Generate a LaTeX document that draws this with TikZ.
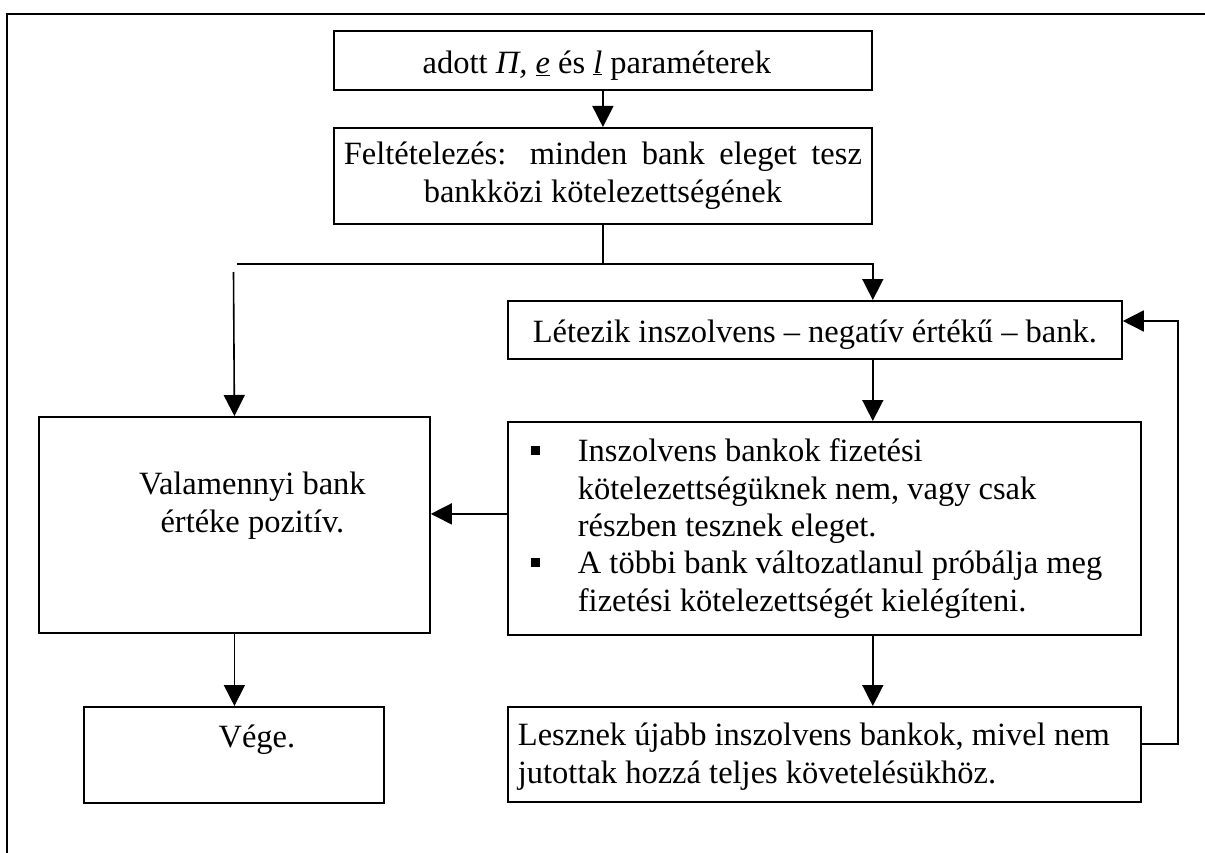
\documentclass[tikz,border=0pt]{standalone}
\usepackage{fontspec}
\setmainfont{Liberation Serif}
\usetikzlibrary{arrows.meta,calc}
\newcommand\bxt[4]{\parbox[c][#2][t]{#1}{\vspace*{#3}#4}}
\newcommand\sqbul{\leavevmode\llap{\raisebox{7pt}{\rule{9pt}{9pt}}\hspace{38pt}}}
\begin{document}
\begin{tikzpicture}[x=1pt,y=-1pt,
  font=\fontsize{32.5}{37.4}\selectfont,
  box/.style={draw, line width=1.8pt, inner sep=0pt, anchor=north west},
  conn/.style={line width=1.6pt},
  arr/.style={conn, -{Triangle[length=21pt,width=21pt]}}]
\useasboundingbox (0,0) rectangle (1205,853);
% outer frame
\draw[line width=2.6pt] (7,853) -- (7,14) -- (1205,14);
% boxes
\node[box] (b1) at (333,30) {\bxt{538pt}{59pt}{16pt}{\centering\strut adott \textit{Π,} \underline{\textit{e}} és \underline{\textit{l}} paraméterek\hspace*{12pt}}};
\node[box] (b2) at (333,127) {\bxt{538pt}{96pt}{10.6pt}{\centering\strut \makebox[518pt][s]{Feltételezés: minden bank eleget tesz}\\ bankközi kötelezettségének}};
\node[box] (b3) at (507,300) {\bxt{614pt}{58pt}{15.6pt}{\centering\strut Létezik inszolvens – negatív értékű – bank.}};
\node[box] (val) at (38,416) {\bxt{391pt}{216pt}{51.6pt}{\centering\leftskip=36pt plus 1fil\strut Valamennyi bank\\ értéke pozitív.}};
\node[box] (vege) at (83,706) {\bxt{300pt}{96pt}{14.6pt}{\centering\leftskip=46pt plus 1fil\strut Vége.}};
\node[box] (b4) at (507,421) {\bxt{633pt}{213pt}{13.6pt}{\raggedright\leftskip=70pt
  \sqbul\strut Inszolvens bankok fizetési\\ kötelezettségüknek nem, vagy csak\\ részben tesznek eleget.\par
  \sqbul A többi bank változatlanul próbálja meg\\ fizetési kötelezettségét kielégíteni.}};
\node[box] (b5) at (507,706) {\bxt{633pt}{95pt}{12.6pt}{\raggedright\leftskip=10pt
  \strut Lesznek újabb inszolvens bankok, mivel nem\\ jutottak hozzá teljes követelésükhöz.}};
% connectors
\coordinate (j) at ($(b2.south)+(0,39)$);
\coordinate (jl) at (237,262);
\coordinate (vl) at (233.5,272);
\coordinate (lp) at (1178,321);
\draw[arr] (b1.south) -- (b2.north);
\draw[conn] (b2.south) -- (j) -- (j -| jl);
\draw[arr] (j) -| (b3.north -| b1.east);
\draw[arr] (vl) -- (val.north);
\draw[arr] (b3.south -| b1.east) -- (b4.north -| b1.east);
\draw[arr] ([yshift=14.5pt]b4.west) -- ([yshift=14.5pt]b4.west -| val.east);
\draw[arr] (val.south) -- (val.south |- vege.north);
\draw[arr] (b4.south -| b1.east) -- (b5.north -| b1.east);
\draw[arr] ([yshift=10.5pt]b5.east) -| (lp) -- (lp -| b3.east);
\end{tikzpicture}
\end{document}
